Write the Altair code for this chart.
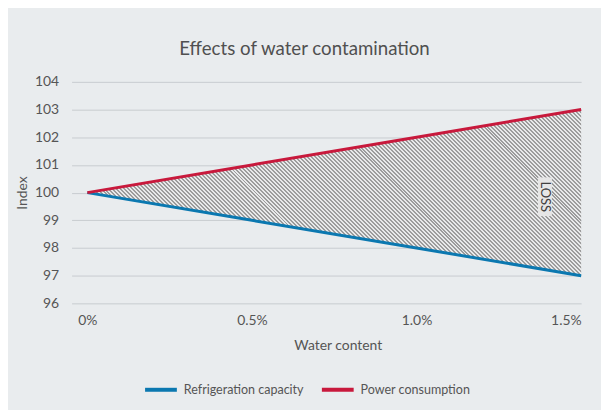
import math
import altair as alt
import pandas as pd

# ---- data ----
water_content = [0.0, 0.5, 1.0, 1.5]
refrigeration_capacity = [100, 99, 98, 97]
power_consumption = [100, 101, 102, 103]
series_names = ["Refrigeration capacity", "Power consumption"]
series_colors = ["#0b78b0", "#c8193c"]
x_tick_values = [0.0, 0.5, 1.0, 1.5]
x_tick_labels = ["0%", "0.5%", "1.0%", "1.5%"]
y_tick_values = [96, 97, 98, 99, 100, 101, 102, 103, 104]
loss_text = ["LOSS"]
loss_x = [1.39]
loss_y = [99.85]

FONT = "Lato"
W, H = 513, 223
x_domain = [-0.048, 1.5]
y_domain = [96, 104]

line_df = pd.DataFrame(
    [{"x": x, "v": v, "series": series_names[0]} for x, v in zip(water_content, refrigeration_capacity)]
    + [{"x": x, "v": v, "series": series_names[1]} for x, v in zip(water_content, power_consumption)]
)
area_df = pd.DataFrame({"x": water_content, "lo": refrigeration_capacity, "hi": power_consumption})
loss_df = pd.DataFrame({"x": loss_x, "y": loss_y, "t": loss_text})

# ---- hatch fill as a striped linear gradient (style only) ----
pxu_x = W / (x_domain[1] - x_domain[0])
pxu_y = H / (y_domain[1] - y_domain[0])
bw = (max(water_content) - min(water_content)) * pxu_x
bh = (max(power_consumption) - min(refrigeration_capacity)) * pxu_y
r = bh / bw
period = 4.0
n = int(math.ceil((bw + bh) / period))
k = (1 + r) / (1 + r * r) * (n * period) / (bw + bh)
dark, light = "#9c9c9c", "#e8e9ea"
stops = []
for i in range(n):
    a = i / n
    m = (i + 0.5) / n
    b = (i + 1) / n
    stops += [
        alt.GradientStop(offset=a, color=dark),
        alt.GradientStop(offset=m, color=dark),
        alt.GradientStop(offset=m, color=light),
        alt.GradientStop(offset=b, color=light),
    ]
hatch = alt.LinearGradient(gradient="linear", stops=stops, x1=0, y1=1, x2=k, y2=1 - k * r)

label_expr = "[" + ",".join("'%s'" % s for s in x_tick_labels) + "][indexof([" + ",".join(str(v) for v in x_tick_values) + "], datum.value)]"

x_scale = alt.Scale(domain=x_domain, nice=False, zero=False)
y_scale = alt.Scale(domain=y_domain, nice=False, zero=False)

x_axis = alt.Axis(
    values=x_tick_values, tickCount=20, labelExpr=label_expr, grid=False, domain=False, ticks=False,
    labelPadding=10, labelFontSize=14, labelColor="#555555", labelFont=FONT,
    title="Water content", titleFont=FONT, titleFontSize=14, titleFontWeight="normal",
    titleColor="#555555", titleX=268, titleY=42, titleBaseline="middle", titleAlign="center",
)
y_axis = alt.Axis(
    values=y_tick_values, tickCount=20, format="d", labelOverlap=False, grid=True, gridColor="#c8ccd0",
    gridWidth=1, domain=False, ticks=False,
    labelPadding=13, labelFontSize=14, labelColor="#555555", labelFont=FONT,
    title="Index", titleFont=FONT, titleFontSize=14, titleFontWeight="normal",
    titleColor="#555555", titleX=-49, titleY=H / 2, titleBaseline="middle", titleAlign="center",
    titleAngle=270,
)

area = alt.Chart(area_df).mark_area(fill=hatch).encode(
    x=alt.X("x:Q", scale=x_scale, axis=x_axis),
    y=alt.Y("hi:Q", scale=y_scale, axis=y_axis),
    y2="lo:Q",
)

lines = alt.Chart(line_df).mark_line(strokeWidth=3).encode(
    x=alt.X("x:Q", scale=x_scale, axis=x_axis),
    y=alt.Y("v:Q", scale=y_scale, axis=y_axis),
    color=alt.Color(
        "series:N",
        scale=alt.Scale(domain=series_names, range=series_colors),
        sort=series_names,
        legend=alt.Legend(
            title=None, orient="none", direction="horizontal", legendX=72, legendY=292,
            symbolType="stroke", symbolSize=1024, symbolStrokeWidth=4,
            labelFont=FONT, labelFontSize=12.6, labelColor="#555555", labelOffset=5,
            columnPadding=10,
        ),
    ),
)

box = alt.Chart(loss_df).mark_point(
    shape="M-0.36,-1L0.36,-1L0.36,1L-0.36,1Z", filled=True, fill="#e6e6e6",
    opacity=1, size=1521, strokeWidth=0,
).encode(x=alt.X("x:Q", scale=x_scale, axis=x_axis), y=alt.Y("y:Q", scale=y_scale, axis=y_axis))

loss = alt.Chart(loss_df).mark_text(
    angle=90, font=FONT, fontSize=13, color="#404040", align="center", baseline="middle",
).encode(x=alt.X("x:Q", scale=x_scale, axis=x_axis), y=alt.Y("y:Q", scale=y_scale, axis=y_axis), text="t:N")

chart = alt.layer(area, lines, box, loss).properties(
    width=W, height=H,
    title=alt.TitleParams(
        "Effects of water contamination", font=FONT, fontSize=18.8, fontWeight="normal",
        color="#505050", anchor="middle", dx=-22, offset=16,
    ),
    autosize=alt.AutoSizeParams(type="none"),
    padding={"left": 64, "top": 73, "right": 20, "bottom": 106},
    background="#e9ecee",
).configure_view(stroke=None)

chart.save("out.html", embed_options={"renderer": "svg", "actions": False})
